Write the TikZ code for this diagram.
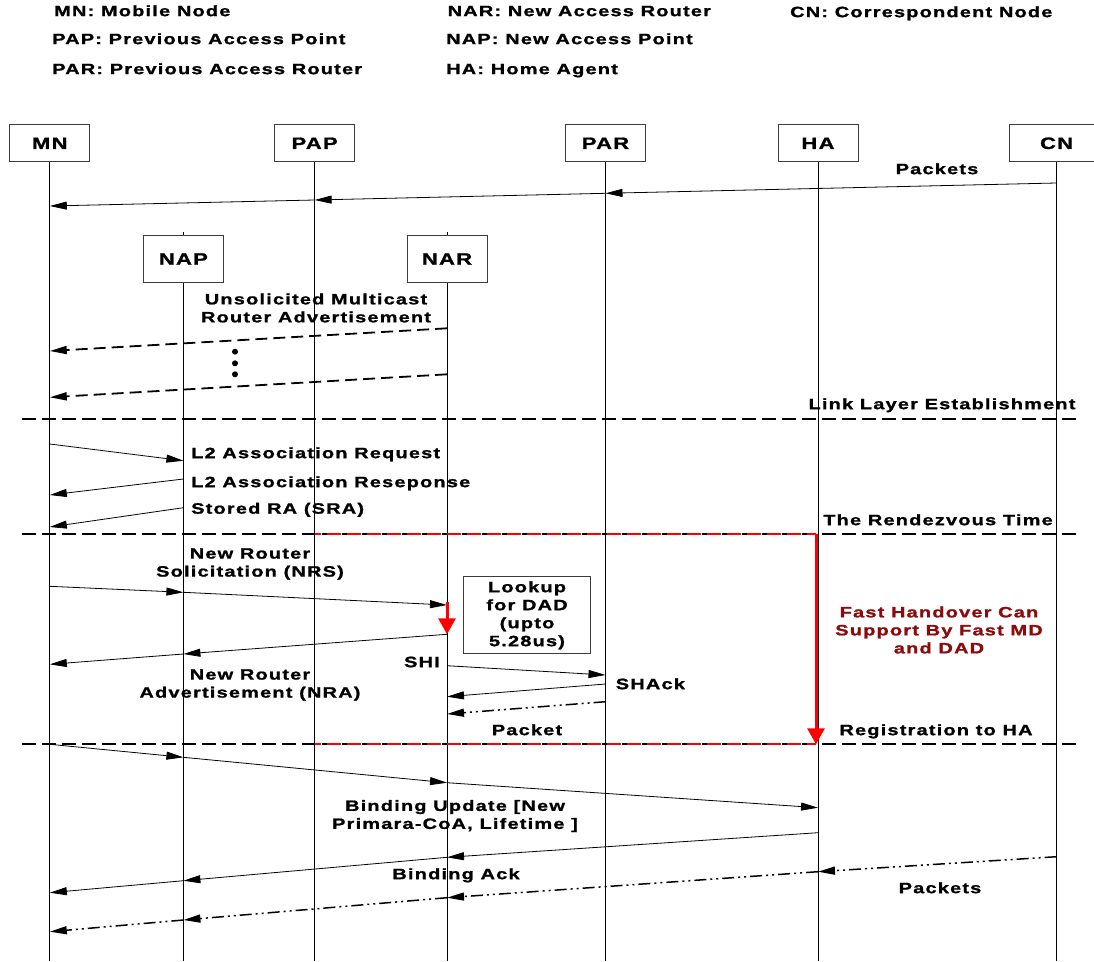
\documentclass[tikz,border=0pt]{standalone}
\usepackage{fontspec}
\usepackage{tikz}
\usetikzlibrary{arrows.meta}
\newfontfamily\diagfont{Liberation Sans}[FakeStretch=1.33,LetterSpace=8,FakeBold=1.2]
\definecolor{dred}{RGB}{140,10,10}
\definecolor{lgray}{RGB}{60,60,60}
\newcommand{\lpt}[3]{\coordinate (#1) at (#2 |- 0,#3);}

\begin{document}
\begin{tikzpicture}[x=1pt,y=-1pt,>={Triangle[length=17pt,width=8pt]},msg/.style={->,line width=0.8pt},dmsg/.style={->,line width=1.8pt,dash pattern=on 12pt off 6pt},ddmsg/.style={->,line width=1.5pt,dash pattern=on 12pt off 4pt on 2pt off 4pt on 2pt off 4pt},sep/.style={line width=1.8pt,dash pattern=on 14pt off 6pt},redsep/.style={red,line width=1.8pt,dash pattern=on 14pt off 6pt,dash phase=8pt},redarr/.style={red,line width=3pt,-{Triangle[length=16pt,width=17pt]}},txt/.style={inner sep=0pt},font=\diagfont\bfseries\fontsize{15}{18}\selectfont]
      \useasboundingbox (0,0) rectangle (1094,961);
      \tikzstyle{ent}=[draw=lgray,line width=1pt,minimum width=80pt,minimum height=37pt,fill=white,font=\diagfont\bfseries\fontsize{16.5}{18}\selectfont]
      % legend
      \node [txt,anchor=mid west] (l1) at (54,14) {MN: Mobile Node};
      \node [txt,anchor=mid west] (l2) at (52,42) {PAP: Previous Access Point};
      \node [txt,anchor=mid west] (l3) at (52,72) {PAR: Previous Access Router};
      \node [txt,anchor=mid west] (l4) at (447.5,14) {NAR: New Access Router};
      \node [txt,anchor=mid west] (l5) at (446,42) {NAP: New Access Point};
      \node [txt,anchor=mid west] (l6) at (446,72) {HA: Home Agent};
      \node [txt,anchor=mid west] (l7) at (790,15) {CN: Correspondent Node};
      % entities
      \node [ent] (mn) at (49.8,143.3) {MN};
      \node [ent] (pap) at (314.6,143.3) {PAP};
      \node [ent] (par) at (605.5,143.3) {PAR};
      \node [ent] (ha) at (818,143.3) {HA};
      \node [ent,minimum width=94pt] (cn) at (1056.6,143.3) {CN};
      \node [ent,minimum height=46.6pt] (nap) at (183.4,259) {NAP};
      \node [ent,minimum height=46.6pt] (nar) at (447,259) {NAR};
      \foreach \n in {mn,pap,par,ha,cn,nap,nar}
	\draw [line width=0.8pt] (\n.south) -- (\n |- 0,961);
      \draw [line width=0.8pt] (nap.north) -- ++(0,-3);
      \draw [line width=0.8pt] (nar.north) -- ++(0,-3);
      % packets from CN
      \lpt{a1}{cn}{183} \lpt{a2}{par}{193.3} \lpt{a3}{pap}{200} \lpt{a4}{mn}{206}
      \path (a1) edge[msg] (a2) (a2) edge[msg] (a3) (a3) edge[msg] (a4);
      \node [txt,anchor=mid] (t1) at (937,172) {Packets};
      % unsolicited advertisements
      \lpt{b1}{nar}{328.3} \lpt{b2}{mn}{351} \lpt{b3}{nar}{374.3} \lpt{b4}{mn}{397.3}
      \draw [dmsg] (b1) -- (b2);
      \draw [dmsg] (b3) -- (b4);
      \node [txt,align=center] (t2) at (316,308) {Unsolicited Multicast\\Router Advertisement};
      \fill (235,351.7) circle (3pt) (235,363.3) circle (3pt) (235,374.3) circle (3pt);
      % link layer
      \coordinate (s1l) at (22,419); \coordinate (s1r) at (1078,419);
      \draw [sep] (s1l) -- (s1r);
      \node [txt,anchor=mid] (t3) at (942,407) {Link Layer Establishment};
      \lpt{c1}{mn}{444} \lpt{c2}{nap}{460.7}
      \lpt{c3}{nap}{479} \lpt{c4}{mn}{495}
      \lpt{c5}{nap}{507.7} \lpt{c6}{mn}{527}
      \draw [msg] (c1) -- (c2);
      \draw [msg] (c3) -- (c4);
      \draw [msg] (c5) -- (c6);
      \node [txt,anchor=mid west] (t4) at (191,456) {L2 Association Request};
      \node [txt,anchor=mid west] (t5) at (191,485) {L2 Association Reseponse};
      \node [txt,anchor=mid west] (t6) at (191,511.5) {Stored RA (SRA)};
      % rendezvous
      \coordinate (s2l) at (22,534); \coordinate (s2r) at (1078,534);
      \coordinate (r1) at (816,534); \coordinate (r2) at (816,744.3);
      \lpt{r0}{pap}{534}
      \draw [sep] (s2l) -- (s2r);
      \draw [redsep] (r0) -- (r1);
      \node [txt,anchor=mid] (t7) at (938,523) {The Rendezvous Time};
      \lpt{d1}{mn}{586.3} \lpt{d2}{nap}{592.3} \lpt{d3}{nar}{605}
      \path (d1) edge[msg] (d2) (d2) edge[msg] (d3);
      \node [txt,align=center] (t8) at (250,564) {New Router\\Solicitation (NRS)};
      \lpt{e0}{nar}{602} \lpt{e1}{nar}{634.3} \lpt{e2}{nap}{654} \lpt{e3}{mn}{664.3}
      \draw [redarr] (e0) -- (e1);
      \path (e1) edge[msg] (e2) (e2) edge[msg] (e3);
      \node [txt,align=center] (t9) at (250,685) {New Router\\Advertisement (NRA)};
      \node [draw=lgray,line width=1pt,minimum width=127pt,minimum height=77pt,align=center,inner sep=0pt] (dad) at (527,615.3) {Lookup\\for DAD\\(upto\\5.28us)};
      \lpt{f1}{nar}{665.7} \lpt{f2}{par}{675}
      \lpt{f3}{par}{684} \lpt{f4}{nar}{696.7}
      \lpt{f5}{par}{701.7} \lpt{f6}{nar}{714}
      \draw [msg] (f1) -- (f2);
      \draw [msg] (f3) -- (f4);
      \draw [ddmsg] (f5) -- (f6);
      \node [txt,anchor=mid east] (t10) at (440,665) {SHI};
      \node [txt,anchor=mid west] (t11) at (615.6,687) {SHAck};
      \node [txt,anchor=mid] (t12) at (527,733) {Packet};
      \node [txt,anchor=mid] (t13) at (936,733) {Registration to HA};
      \node [txt,align=center,text=dred] (t14) at (939,630) {Fast Handover Can\\Support By Fast MD\\and DAD};
      % registration
      \coordinate (s3l) at (22,744.3); \coordinate (s3r) at (1078,744.3);
      \lpt{r3}{pap}{744.3}
      \draw [sep] (s3l) -- (s3r);
      \draw [redsep] (r3) -- (r2);
      \draw [redarr] (r1) -- (r2);
      \lpt{g1}{mn}{744.3} \lpt{g2}{nap}{757.3} \lpt{g3}{nar}{782.7} \lpt{g4}{ha}{807.7}
      \path (g1) edge[msg] (g2) (g2) edge[msg] (g3) (g3) edge[msg] (g4);
      \node [txt,align=center] (t15) at (455,816) {Binding Update [New\\Primara-CoA, Lifetime ]};
      \lpt{h1}{ha}{832.7} \lpt{h2}{nar}{857.3} \lpt{h3}{nap}{880.7} \lpt{h4}{mn}{892.7}
      \path (h1) edge[msg] (h2) (h2) edge[msg] (h3) (h3) edge[msg] (h4);
      \node [txt,anchor=mid] (t16) at (456,877) {Binding Ack};
      \lpt{k1}{cn}{856.7} \lpt{k2}{ha}{871.7} \lpt{k3}{nar}{897.7} \lpt{k4}{nap}{920} \lpt{k5}{mn}{931.7}
      \path (k1) edge[ddmsg] (k2) (k2) edge[ddmsg] (k3) (k3) edge[ddmsg] (k4) (k4) edge[ddmsg] (k5);
      \node [txt,anchor=mid] (t17) at (940,891) {Packets};
  \end{tikzpicture}
\end{document}
